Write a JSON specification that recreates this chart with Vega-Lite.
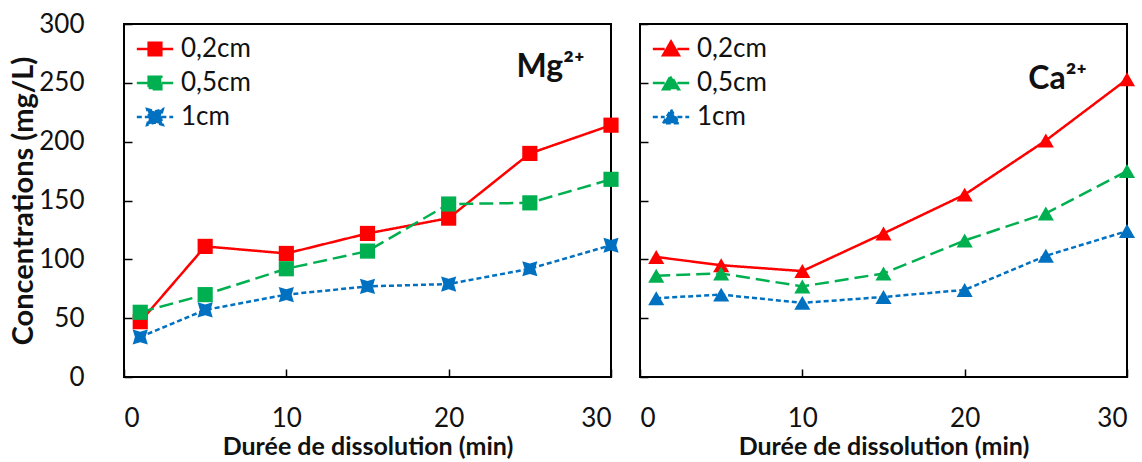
{
  "$schema": "https://vega.github.io/schema/vega-lite/v6.json",
  "background": "white",
  "padding": {"left": 8, "top": 10, "right": 4, "bottom": 2},
  "spacing": 29,
  "bounds": "flush",
  "config": {
    "font": "Lato",
    "view": {"stroke": "black", "strokeWidth": 2},
    "axis": {"grid": false, "domain": false, "tickColor": "black", "tickWidth": 1.5, "tickSize": -8, "labelFont": "Lato", "labelFontSize": 26, "labelColor": "#111", "titleFont": "Lato", "titleFontSize": 25, "titleFontWeight": "bold", "titleColor": "#111"},
    "legend": {"labelFont": "Lato", "labelFontSize": 26, "labelColor": "#111", "title": null}
  },
  "datasets": {
    "mg": [
      {"t": 1, "s": "0,2cm", "c": 47}, {"t": 5, "s": "0,2cm", "c": 111}, {"t": 10, "s": "0,2cm", "c": 105}, {"t": 15, "s": "0,2cm", "c": 122}, {"t": 20, "s": "0,2cm", "c": 135}, {"t": 25, "s": "0,2cm", "c": 190}, {"t": 30, "s": "0,2cm", "c": 214},
      {"t": 1, "s": "0,5cm", "c": 55}, {"t": 5, "s": "0,5cm", "c": 70}, {"t": 10, "s": "0,5cm", "c": 92}, {"t": 15, "s": "0,5cm", "c": 107}, {"t": 20, "s": "0,5cm", "c": 147}, {"t": 25, "s": "0,5cm", "c": 148}, {"t": 30, "s": "0,5cm", "c": 168},
      {"t": 1, "s": "1cm", "c": 34}, {"t": 5, "s": "1cm", "c": 57}, {"t": 10, "s": "1cm", "c": 70}, {"t": 15, "s": "1cm", "c": 77}, {"t": 20, "s": "1cm", "c": 79}, {"t": 25, "s": "1cm", "c": 92}, {"t": 30, "s": "1cm", "c": 112}
    ],
    "ca": [
      {"t": 1, "s": "0,2cm", "c": 102}, {"t": 5, "s": "0,2cm", "c": 95}, {"t": 10, "s": "0,2cm", "c": 90}, {"t": 15, "s": "0,2cm", "c": 122}, {"t": 20, "s": "0,2cm", "c": 155}, {"t": 25, "s": "0,2cm", "c": 201}, {"t": 30, "s": "0,2cm", "c": 253},
      {"t": 1, "s": "0,5cm", "c": 86}, {"t": 5, "s": "0,5cm", "c": 88}, {"t": 10, "s": "0,5cm", "c": 77}, {"t": 15, "s": "0,5cm", "c": 88}, {"t": 20, "s": "0,5cm", "c": 116}, {"t": 25, "s": "0,5cm", "c": 139}, {"t": 30, "s": "0,5cm", "c": 175},
      {"t": 1, "s": "1cm", "c": 67}, {"t": 5, "s": "1cm", "c": 70}, {"t": 10, "s": "1cm", "c": 63}, {"t": 15, "s": "1cm", "c": 68}, {"t": 20, "s": "1cm", "c": 74}, {"t": 25, "s": "1cm", "c": 103}, {"t": 30, "s": "1cm", "c": 124}
    ]
  },
  "resolve": {
    "scale": {"color": "independent", "strokeDash": "independent"},
    "legend": {"color": "independent", "strokeDash": "independent"}
  },
  "hconcat": [
    {
      "width": 487,
      "height": 353,
      "data": {"name": "mg"},
      "title": {"text": "Mg²⁺", "orient": "top", "anchor": "end", "fontSize": 32, "fontWeight": "bold", "font": "Lato", "color": "#111", "dx": -34, "dy": 77},
      "encoding": {
        "x": {"field": "t", "type": "quantitative", "scale": {"domain": [0, 30], "nice": false}, "axis": {"values": [0, 10, 20, 30], "title": "Durée de dissolution (min)", "labelPadding": 36, "titlePadding": 3}},
        "y": {"field": "c", "type": "quantitative", "scale": {"domain": [0, 300], "nice": false}, "axis": {"values": [0, 50, 100, 150, 200, 250, 300], "title": "Concentrations (mg/L)", "titleFontSize": 29, "labelPadding": 48, "titlePadding": 0}},
        "color": {"field": "s", "type": "nominal", "scale": {"domain": ["0,2cm", "0,5cm", "1cm"], "range": ["#ff0000", "#00b050", "#0070c0"]},
          "legend": {"orient": "top-left", "offset": 12, "padding": 0, "rowPadding": 8, "symbolSize": 250, "symbolStrokeWidth": 2.5, "labelOffset": 19,
            "encode": {"symbols": {"update": {
              "shape": {"signal": "datum.value === '1cm' ? 'M-2.3,0H-0.8M0.8,0H2.3M-1,-1L0,-0.7L1,-1L0.7,0L1,1L0,0.7L-1,1L-0.7,0Z' : 'M-2.3,0H-0.8M0.8,0H2.3M-0.8,-0.8H0.8V0.8H-0.8Z'"},
              "stroke": {"signal": "datum.value === '0,2cm' ? '#ff0000' : datum.value === '0,5cm' ? '#00b050' : '#0070c0'"},
              "fill": {"signal": "datum.value === '0,2cm' ? '#ff0000' : datum.value === '0,5cm' ? '#00b050' : '#0070c0'"},
              "strokeDash": {"signal": "datum.value === '1cm' ? [4, 3] : []"},
              "strokeWidth": {"value": 2.5},
              "opacity": {"value": 1},
              "strokeOpacity": {"value": 1},
              "fillOpacity": {"value": 1},
              "xc": {"value": 19}}}}}},
        "strokeDash": {"field": "s", "type": "nominal", "scale": {"domain": ["0,2cm", "0,5cm", "1cm"], "range": [[1, 0], [14, 6], [5, 3]]}, "legend": null}
      },
      "layer": [
        {"mark": {"type": "line", "strokeWidth": 2.5}},
        {"transform": [{"filter": "datum.s !== '1cm'"}], "mark": {"type": "point", "filled": true, "opacity": 1, "shape": "square"}, "encoding": {"size": {"value": 230}}},
        {"transform": [{"filter": "datum.s === '1cm'"}], "mark": {"type": "point", "filled": true, "opacity": 1, "shape": "M-1,-1L0,-0.7L1,-1L0.7,0L1,1L0,0.7L-1,1L-0.7,0Z"}, "encoding": {"size": {"value": 230}}}
      ]
    },
    {
      "width": 487,
      "height": 353,
      "data": {"name": "ca"},
      "title": {"text": "Ca²⁺", "orient": "top", "anchor": "end", "fontSize": 32, "fontWeight": "bold", "font": "Lato", "color": "#111", "dx": -48, "dy": 77},
      "encoding": {
        "x": {"field": "t", "type": "quantitative", "scale": {"domain": [0, 30], "nice": false}, "axis": {"values": [0, 10, 20, 30], "title": "Durée de dissolution (min)", "labelPadding": 36, "titlePadding": 3}},
        "y": {"field": "c", "type": "quantitative", "scale": {"domain": [0, 300], "nice": false}, "axis": {"values": [0, 50, 100, 150, 200, 250, 300], "title": null, "labels": false}},
        "color": {"field": "s", "type": "nominal", "scale": {"domain": ["0,2cm", "0,5cm", "1cm"], "range": ["#ff0000", "#00b050", "#0070c0"]},
          "legend": {"orient": "top-left", "offset": 12, "padding": 0, "rowPadding": 8, "symbolSize": 250, "symbolStrokeWidth": 2.5, "labelOffset": 19,
            "encode": {"symbols": {"update": {
              "shape": {"value": "M-2.3,0H-0.8M0.8,0H2.3M-1,0.8L0,-0.95L1,0.8Z"},
              "stroke": {"signal": "datum.value === '0,2cm' ? '#ff0000' : datum.value === '0,5cm' ? '#00b050' : '#0070c0'"},
              "fill": {"signal": "datum.value === '0,2cm' ? '#ff0000' : datum.value === '0,5cm' ? '#00b050' : '#0070c0'"},
              "strokeDash": {"signal": "datum.value === '1cm' ? [4, 3] : []"},
              "strokeWidth": {"value": 2.5},
              "opacity": {"value": 1},
              "strokeOpacity": {"value": 1},
              "fillOpacity": {"value": 1},
              "xc": {"value": 19}}}}}},
        "strokeDash": {"field": "s", "type": "nominal", "scale": {"domain": ["0,2cm", "0,5cm", "1cm"], "range": [[1, 0], [14, 6], [5, 3]]}, "legend": null}
      },
      "layer": [
        {"mark": {"type": "line", "strokeWidth": 2.5}},
        {"mark": {"type": "point", "filled": true, "opacity": 1, "shape": "triangle-up"}, "encoding": {"size": {"value": 260}}}
      ]
    }
  ]
}
